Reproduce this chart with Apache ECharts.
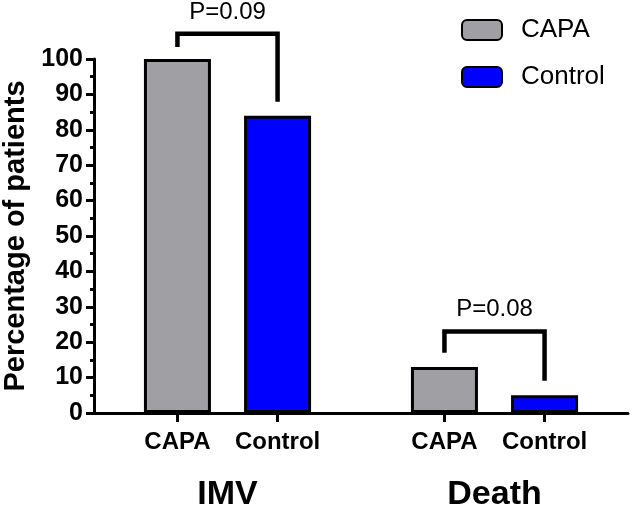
<!DOCTYPE html>
<html>
<head>
<meta charset="utf-8">
<script src="https://cdn.jsdelivr.net/npm/echarts@6/dist/echarts.min.js"></script>
<style>html,body{margin:0;padding:0;background:#fff;}#c{width:630px;height:505px;}</style>
</head>
<body>
<div id="c"></div>
<script>
const groups = ["IMV", "Death"];
const subgroups = ["CAPA", "Control"];
const capaValues = [100, 13];
const controlValues = [84, 5];
const yTicks = [0, 10, 20, 30, 40, 50, 60, 70, 80, 90, 100];
const pLabels = ["P=0.09", "P=0.08"];
const bracketLeftEnd = [103.4, 17];
const bracketTop = [107.1, 23];
const bracketRightEnd = [87.9, 9.1];
const pLabelLevel = [113.3, 29.4];

const FONT = "Liberation Sans, Arial, sans-serif";
const slotsPerGroup = 8;
const slotOffset = [2, 5];
const cats = [];
const capaData = [];
const controlData = [];
for (let g = 0; g < groups.length; g++) {
  for (let s = 0; s < slotsPerGroup; s++) {
    if (s === slotOffset[0]) { cats.push(subgroups[0]); capaData.push(capaValues[g]); controlData.push('-'); }
    else if (s === slotOffset[1]) { cats.push(subgroups[1]); capaData.push('-'); controlData.push(controlValues[g]); }
    else { cats.push(''); capaData.push('-'); controlData.push('-'); }
  }
}
const bracketData = groups.map((g, i) => [
  i * slotsPerGroup + slotOffset[0], i * slotsPerGroup + slotOffset[1],
  bracketLeftEnd[i], bracketTop[i], bracketRightEnd[i], pLabelLevel[i]
]);

const chart = echarts.init(document.getElementById('c'), null, {renderer: 'canvas'});
chart.setOption({
  animation: false,
  backgroundColor: '#fff',
  grid: {left: 94, right: 2, top: 59, bottom: 92, containLabel: false, outerBoundsMode: 'none'},
  legend: {
    orient: 'vertical', left: 461, top: 17, padding: 0,
    itemWidth: 40, itemHeight: 20, itemGap: 21,
    textStyle: {fontFamily: FONT, fontSize: 26, color: '#000', padding: [0, 0, 0, 14]},
    data: subgroups
  },
  xAxis: [{
    type: 'category', data: cats, position: 'bottom',
    axisLine: {lineStyle: {color: '#000', width: 3}},
    axisTick: {show: true, alignWithLabel: true, length: 9, lineStyle: {color: '#000', width: 3},
      interval: (idx) => cats[idx] !== ''},
    axisLabel: {interval: (idx) => cats[idx] !== '', margin: 17, color: '#000',
      fontFamily: FONT, fontWeight: 'bold', fontSize: 24},
    splitLine: {show: false}
  }, {
    type: 'category', data: groups, position: 'bottom',
    axisLine: {show: false}, axisTick: {show: false},
    axisLabel: {margin: 65, color: '#000', fontFamily: FONT, fontWeight: 'bold', fontSize: 34},
    splitLine: {show: false}
  }],
  yAxis: {
    type: 'value', min: yTicks[0], max: yTicks[yTicks.length - 1], interval: yTicks[1] - yTicks[0],
    name: 'Percentage of patients', nameLocation: 'middle', nameGap: 61,
    nameTextStyle: {fontFamily: FONT, fontWeight: 'bold', fontSize: 29, color: '#000'},
    axisLine: {show: true, lineStyle: {color: '#000', width: 3}},
    axisTick: {show: true, length: 8, lineStyle: {color: '#000', width: 3}},
    minorTick: {show: true, splitNumber: 2, length: 4, lineStyle: {color: '#000', width: 3}},
    axisLabel: {margin: 11, color: '#000', fontFamily: FONT, fontWeight: 'bold', fontSize: 25},
    splitLine: {show: false}
  },
  series: [{
    name: subgroups[0], type: 'bar', data: capaData, barWidth: 67, barGap: '-100%',
    itemStyle: {color: '#a0a0a4', borderColor: '#000', borderWidth: 3}
  }, {
    name: subgroups[1], type: 'bar', data: controlData, barWidth: 67, barGap: '-100%',
    itemStyle: {color: '#0000ff', borderColor: '#000', borderWidth: 3}
  }, {
    type: 'custom', data: bracketData, clip: false, silent: true, z: 10,
    encode: {x: 0, y: 2},
    renderItem: function (params, api) {
      const i = params.dataIndex;
      const pL = api.coord([api.value(0), api.value(2)]);
      const pLT = api.coord([api.value(0), api.value(3)]);
      const pRT = api.coord([api.value(1), api.value(3)]);
      const pR = api.coord([api.value(1), api.value(4)]);
      const pt = api.coord([api.value(0), api.value(5)]);
      return {
        type: 'group',
        children: [{
          type: 'polyline',
          shape: {points: [pL, pLT, pRT, pR]},
          style: {stroke: '#000', lineWidth: 4.5, fill: null, lineJoin: 'miter'}
        }, {
          type: 'text',
          style: {text: pLabels[i], x: (pL[0] + pR[0]) / 2, y: pt[1], align: 'center', verticalAlign: 'middle',
            fontFamily: FONT, fontSize: 24, fill: '#000'}
        }]
      };
    }
  }]
});
</script>
</body>
</html>
